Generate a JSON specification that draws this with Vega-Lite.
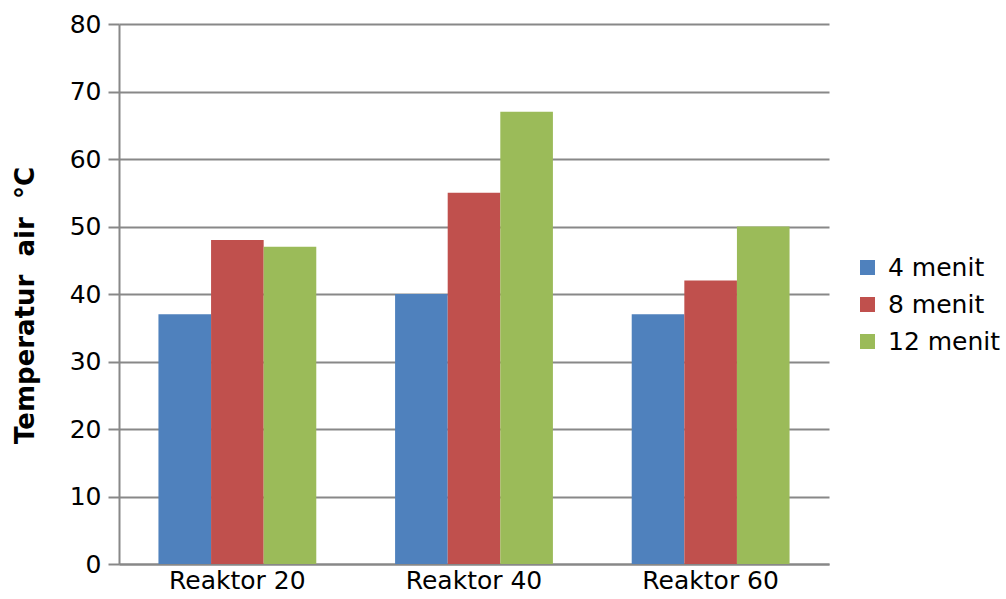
{
  "$schema": "https://vega.github.io/schema/vega-lite/v6.json",
  "autosize": "none",
  "width": 710,
  "height": 540,
  "padding": {"left": 119, "top": 24, "right": 177, "bottom": 35},
  "background": "white",
  "config": {
    "font": "DejaVu Sans",
    "view": {"stroke": null}
  },
  "data": {
    "values": [
      {"reaktor": "Reaktor 20", "waktu": "4 menit", "suhu": 37},
      {"reaktor": "Reaktor 20", "waktu": "8 menit", "suhu": 48},
      {"reaktor": "Reaktor 20", "waktu": "12 menit", "suhu": 47},
      {"reaktor": "Reaktor 40", "waktu": "4 menit", "suhu": 40},
      {"reaktor": "Reaktor 40", "waktu": "8 menit", "suhu": 55},
      {"reaktor": "Reaktor 40", "waktu": "12 menit", "suhu": 67},
      {"reaktor": "Reaktor 60", "waktu": "4 menit", "suhu": 37},
      {"reaktor": "Reaktor 60", "waktu": "8 menit", "suhu": 42},
      {"reaktor": "Reaktor 60", "waktu": "12 menit", "suhu": 50}
    ]
  },
  "mark": {"type": "bar"},
  "encoding": {
    "x": {
      "field": "reaktor",
      "type": "nominal",
      "sort": ["Reaktor 20", "Reaktor 40", "Reaktor 60"],
      "scale": {"paddingInner": 0.333, "paddingOuter": 0.1667},
      "axis": {
        "title": null,
        "labelAngle": 0,
        "labelFontSize": 25,
        "labelColor": "black",
        "labelPadding": 4,
        "ticks": false,
        "domainColor": "#888888",
        "domainWidth": 2,
        "grid": false
      }
    },
    "xOffset": {
      "field": "waktu",
      "type": "nominal",
      "sort": ["4 menit", "8 menit", "12 menit"],
      "scale": {"paddingInner": 0, "paddingOuter": 0}
    },
    "y": {
      "field": "suhu",
      "type": "quantitative",
      "scale": {"domain": [0, 80]},
      "axis": {
        "title": "Temperatur\u00a0 air\u00a0 °C",
        "titleFontSize": 26,
        "titleFontWeight": "bold",
        "titleColor": "black",
        "titleX": -94,
        "titleY": 281,
        "titleAngle": -90,
        "titleAlign": "center",
        "titleBaseline": "middle",
        "values": [0, 10, 20, 30, 40, 50, 60, 70, 80],
        "labelFontSize": 25,
        "labelColor": "black",
        "labelPadding": 7,
        "tickSize": 11,
        "tickColor": "#888888",
        "tickWidth": 2,
        "domainColor": "#888888",
        "domainWidth": 2,
        "grid": true,
        "gridColor": "#888888",
        "gridWidth": 2
      }
    },
    "color": {
      "field": "waktu",
      "type": "nominal",
      "sort": ["4 menit", "8 menit", "12 menit"],
      "scale": {"range": ["#4F81BD", "#C0504D", "#9BBB59"]},
      "legend": {
        "title": null,
        "orient": "none",
        "legendX": 736,
        "legendY": 231,
        "symbolType": "square",
        "symbolSize": 225,
        "symbolStrokeWidth": 0,
        "symbolOpacity": 1,
        "labelFontSize": 25,
        "labelColor": "black",
        "labelOffset": 8,
        "rowPadding": 11
      }
    }
  }
}
